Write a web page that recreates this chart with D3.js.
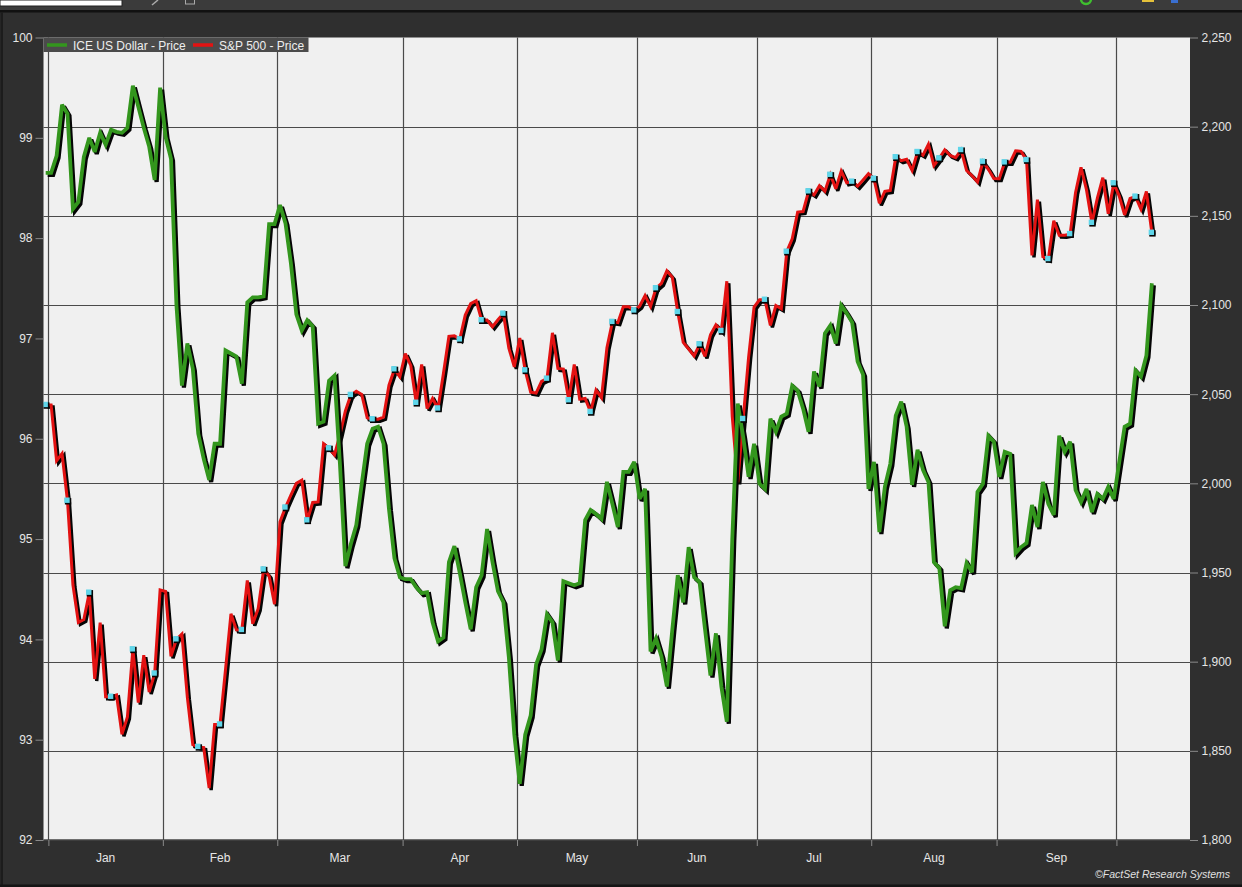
<!DOCTYPE html>
<html>
<head>
<meta charset="utf-8">
<script src="https://cdn.jsdelivr.net/npm/d3@7"></script>
<style>
  html, body { margin: 0; padding: 0; background: #2f2f2f; }
  svg { display: block; font-family: "Liberation Sans", Arial, sans-serif; }
</style>
</head>
<body>
<svg id="chart" width="1242" height="887"></svg>
<script>
// ---------- DATA ----------
const startDate = "2015-12-31"; // first point; one point per weekday
const seriesNames = ["ICE US Dollar - Price", "S&P 500 - Price"];
const monthLabels = ["Jan", "Feb", "Mar", "Apr", "May", "Jun", "Jul", "Aug", "Sep"];
const leftTicks = [92, 93, 94, 95, 96, 97, 98, 99, 100];
const rightTicks = [1800, 1850, 1900, 1950, 2000, 2050, 2100, 2150, 2200, 2250];
const dollarValues = [
  98.65, 98.65, 98.82, 99.33, 99.24, 98.29, 98.36, 98.81, 99.00, 98.86,
  99.05, 98.93, 99.08, 99.06, 99.05, 99.10, 99.52, 99.31, 99.10, 98.91,
  98.58, 99.50, 99.01, 98.79, 97.33, 96.53, 96.95, 96.70, 96.05, 95.80,
  95.59, 95.95, 95.95, 96.88, 96.85, 96.82, 96.55, 97.36, 97.41, 97.41,
  97.42, 98.14, 98.14, 98.33, 98.15, 97.75, 97.24, 97.08, 97.18, 97.12,
  96.15, 96.17, 96.58, 96.63, 95.75, 94.73, 94.95, 95.14, 95.55, 95.95,
  96.10, 96.12, 95.95, 95.30, 94.81, 94.62, 94.60, 94.60, 94.52, 94.46,
  94.47, 94.17, 93.98, 94.02, 94.77, 94.93, 94.66, 94.37, 94.10, 94.52,
  94.64, 95.10, 94.77, 94.48, 94.37, 93.82, 93.05, 92.56, 93.05, 93.24,
  93.75, 93.90, 94.25, 94.17, 93.79, 94.58, 94.56, 94.54, 94.56, 95.19,
  95.29, 95.25, 95.20, 95.57, 95.35, 95.12, 95.67, 95.67, 95.77, 95.40,
  95.50, 93.88, 94.01, 93.83, 93.53, 94.10, 94.64, 94.37, 94.92, 94.62,
  94.57, 94.10, 93.64, 94.06, 93.53, 93.18, 95.00, 96.35, 96.02, 95.62,
  95.95, 95.55, 95.50, 96.20, 96.07, 96.22, 96.25, 96.53, 96.48, 96.30,
  96.07, 96.67, 96.52, 97.05, 97.13, 96.95, 97.33, 97.25, 97.16, 96.77,
  96.64, 95.50, 95.77, 95.07, 95.52, 95.75, 96.23, 96.37, 96.12, 95.54,
  95.89, 95.69, 95.57, 94.77, 94.71, 94.13, 94.49, 94.52, 94.51, 94.76,
  94.67, 95.47, 95.55, 96.03, 95.97, 95.62, 95.87, 95.85, 94.86, 94.92,
  94.96, 95.34, 95.12, 95.57, 95.35, 95.24, 96.03, 95.87, 95.97, 95.49,
  95.37, 95.50, 95.27, 95.45, 95.40, 95.52, 95.40, 95.76, 96.12, 96.15,
  96.68, 96.62, 96.83, 97.55
];
const spxValues = [
  2043.94, 2043.94, 2012.66, 2016.71, 1990.26, 1943.09, 1922.03, 1923.67, 1938.68, 1890.28,
  1921.84, 1880.33, 1880.33, 1881.33, 1859.33, 1868.99, 1906.90, 1877.08, 1903.63, 1882.95,
  1893.36, 1940.24, 1939.38, 1903.03, 1912.53, 1915.45, 1880.05, 1853.44, 1852.21, 1851.86,
  1829.08, 1864.78, 1864.78, 1895.58, 1926.82, 1917.83, 1917.78, 1945.50, 1921.27, 1929.80,
  1951.70, 1948.05, 1932.23, 1978.35, 1986.45, 1993.40, 1999.99, 2001.76, 1979.26, 1989.26,
  1989.57, 2022.19, 2019.64, 2015.93, 2027.22, 2040.59, 2049.58, 2051.60, 2049.80, 2036.71,
  2035.94, 2035.94, 2037.05, 2055.01, 2063.95, 2059.74, 2072.78, 2066.13, 2045.17, 2066.66,
  2041.91, 2047.60, 2041.99, 2061.72, 2082.42, 2082.78, 2080.73, 2094.34, 2100.80, 2102.40,
  2091.48, 2091.58, 2087.79, 2091.70, 2095.15, 2075.81, 2065.30, 2081.43, 2063.37, 2051.12,
  2050.63, 2057.14, 2058.69, 2084.39, 2064.46, 2064.11, 2046.61, 2066.66, 2047.21, 2047.63,
  2040.04, 2052.32, 2048.04, 2076.06, 2090.54, 2090.10, 2099.06, 2099.06, 2096.95, 2099.33,
  2105.26, 2099.13, 2109.41, 2112.13, 2119.12, 2115.48, 2096.07, 2079.06, 2075.32, 2071.50,
  2077.99, 2071.22, 2083.25, 2088.90, 2085.45, 2113.32, 2037.41, 2000.54, 2036.09, 2070.77,
  2098.86, 2102.95, 2102.95, 2088.55, 2099.73, 2097.90, 2129.90, 2137.16, 2152.14, 2152.43,
  2163.75, 2161.74, 2166.89, 2163.78, 2173.02, 2165.17, 2175.03, 2168.48, 2169.18, 2166.58,
  2170.06, 2173.60, 2170.84, 2157.03, 2163.79, 2164.25, 2182.87, 2180.89, 2181.74, 2175.49,
  2185.79, 2184.05, 2190.15, 2178.15, 2182.22, 2187.02, 2183.87, 2182.64, 2186.90, 2175.44,
  2172.47, 2169.04, 2180.38, 2176.12, 2170.95, 2170.86, 2179.98, 2179.98, 2186.48, 2186.16,
  2181.30, 2127.81, 2159.04, 2127.02, 2125.77, 2147.26, 2139.16, 2139.12, 2139.76, 2163.12,
  2177.18, 2164.69, 2146.10, 2159.93, 2171.37, 2151.13, 2168.27, 2161.20, 2150.49, 2159.73,
  2160.77, 2153.74, 2163.66, 2140.50
];
const seriesColors = ["#33961d", "#e31212"];

// ---------- DERIVED DATES (weekdays) ----------
const dates = [];
{
  let d = d3.timeParse("%Y-%m-%d")(startDate);
  while (dates.length < spxValues.length) {
    const wd = d.getDay();
    if (wd !== 0 && wd !== 6) dates.push(new Date(d));
    d = d3.timeDay.offset(d, 1);
  }
}

// ---------- LAYOUT ----------
const W = 1242, H = 887;
const plot = { left: 43.5, right: 1190, top: 37.5, bottom: 840 };

const svg = d3.select("#chart");

// frame / toolbar remnants
svg.append("rect").attr("x", 0).attr("y", 0).attr("width", W).attr("height", 11).attr("fill", "#3b3b3b");
svg.append("rect").attr("x", 0).attr("y", 0).attr("width", 122).attr("height", 6).attr("fill", "#ffffff").attr("stroke", "#222");
svg.append("rect").attr("x", 0).attr("y", 10).attr("width", W).attr("height", 2.5).attr("fill", "#111");
svg.append("rect").attr("x", 0.5).attr("y", 12).attr("width", 2.5).attr("height", H - 12).attr("fill", "#1c1c1c");
svg.append("rect").attr("x", 0).attr("y", H - 2.5).attr("width", W).attr("height", 2.5).attr("fill", "#151515");
// small toolbar icons
svg.append("path").attr("d", "M158,0 L152,5").attr("stroke", "#aaa").attr("stroke-width", 1.5);
svg.append("rect").attr("x", 185.5).attr("y", -3).attr("width", 9).attr("height", 7).attr("fill", "none").attr("stroke", "#aaa");
svg.append("circle").attr("cx", 1086).attr("cy", -1).attr("r", 5).attr("fill", "none").attr("stroke", "#3fbf2f").attr("stroke-width", 2.5);
svg.append("rect").attr("x", 1142).attr("y", -2).attr("width", 12).attr("height", 4).attr("fill", "#e5c13a");
svg.append("rect").attr("x", 1171).attr("y", -2).attr("width", 7).attr("height", 5).attr("fill", "#3a6fd0");

// plot background
svg.append("rect")
  .attr("x", plot.left).attr("y", plot.top)
  .attr("width", plot.right - plot.left).attr("height", plot.bottom - plot.top)
  .attr("fill", "#f0f0f0");

// ---------- SCALES ----------
const x = d3.scaleLinear().domain([-0.4, 210.0]).range([plot.left, plot.right]);
const yL = d3.scaleLinear().domain([92, 100]).range([plot.bottom, plot.top]);
const yR = d3.scaleLinear().domain([1800, 2250]).range([plot.bottom, plot.top]);

// month boundaries (between last weekday of one month and first of the next)
const monthStarts = [];
dates.forEach((d, i) => {
  if (i > 0 && d.getMonth() !== dates[i - 1].getMonth()) monthStarts.push(i - 0.5);
});

// ---------- GRID ----------
const grid = svg.append("g").attr("class", "grid");
grid.selectAll("line.h")
  .data(rightTicks.filter(t => t > 1800 && t < 2250))
  .join("line")
  .attr("class", "h")
  .attr("x1", plot.left).attr("x2", plot.right)
  .attr("y1", d => Math.round(yR(d)) + 0.5).attr("y2", d => Math.round(yR(d)) + 0.5)
  .attr("stroke", "#4a4a4a").attr("stroke-width", 1.2);
grid.selectAll("line.v")
  .data(monthStarts)
  .join("line")
  .attr("class", "v")
  .attr("x1", d => Math.round(x(d)) + 0.5).attr("x2", d => Math.round(x(d)) + 0.5)
  .attr("y1", plot.top).attr("y2", plot.bottom)
  .attr("stroke", "#4a4a4a").attr("stroke-width", 1.2);
svg.append("line")
  .attr("x1", plot.left).attr("x2", plot.right)
  .attr("y1", plot.bottom).attr("y2", plot.bottom)
  .attr("stroke", "#444").attr("stroke-width", 1.5);

// ---------- AXES ----------
const axisText = "#e6e6e6";
const leftAxis = svg.append("g")
  .attr("transform", `translate(${plot.left},0)`)
  .call(d3.axisLeft(yL).tickValues(leftTicks).tickSize(8).tickPadding(3).tickFormat(d3.format("d")));
const rightAxis = svg.append("g")
  .attr("transform", `translate(${plot.right},0)`)
  .call(d3.axisRight(yR).tickValues(rightTicks).tickSize(8).tickPadding(3.5).tickFormat(d3.format(",")));
const bottomAxis = svg.append("g")
  .attr("transform", `translate(0,${plot.bottom})`)
  .call(d3.axisBottom(x).tickValues(monthStarts).tickSize(6).tickFormat(""));
[leftAxis, rightAxis, bottomAxis].forEach(g => {
  g.select(".domain").remove();
  g.selectAll(".tick line").attr("stroke", "#8a8a8a");
  g.selectAll(".tick text")
    .attr("fill", axisText)
    .style("font-family", '"Liberation Sans", Arial, sans-serif')
    .style("font-size", "12px");
});

// month labels centred between boundaries
const bounds = monthStarts.slice();
svg.append("g").selectAll("text")
  .data(monthLabels)
  .join("text")
  .attr("x", (d, i) => x((bounds[i] + bounds[i + 1]) / 2))
  .attr("y", 862)
  .attr("text-anchor", "middle")
  .attr("fill", axisText)
  .style("font-size", "12px")
  .text(d => d);

// copyright
svg.append("text")
  .attr("x", 1230).attr("y", 878)
  .attr("text-anchor", "end")
  .attr("fill", "#e0e0e0")
  .style("font-size", "10.5px")
  .style("font-style", "italic")
  .text("©FactSet Research Systems");

// ---------- LINES ----------
const clip = svg.append("clipPath").attr("id", "clip").append("rect")
  .attr("x", plot.left).attr("y", plot.top)
  .attr("width", plot.right - plot.left).attr("height", plot.bottom - plot.top);

const lines = svg.append("g").attr("clip-path", "url(#clip)");
const lineL = d3.line().x((d, i) => x(i)).y(d => yL(d));
const lineR = d3.line().x((d, i) => x(i)).y(d => yR(d));

function drawSeries(values, gen, color, width) {
  lines.append("path").datum(values)
    .attr("d", gen)
    .attr("transform", "translate(2,2)")
    .attr("fill", "none").attr("stroke", "#050505")
    .attr("stroke-width", width + 0.4).attr("stroke-miterlimit", 3);
  lines.append("path").datum(values)
    .attr("d", gen)
    .attr("fill", "none").attr("stroke", color)
    .attr("stroke-width", width).attr("stroke-miterlimit", 3);
}
drawSeries(spxValues, lineR, seriesColors[1], 3);
drawSeries(dollarValues, lineL, seriesColors[0], 3.8);

// markers on S&P line (every 4th point and the last)
const markerIdx = spxValues.map((v, i) => i).filter(i => i % 4 === 0 || i === spxValues.length - 1);
const mk = lines.append("g");
mk.selectAll("rect.s").data(markerIdx).join("rect").attr("class", "s")
  .attr("x", i => x(i) - 2.6).attr("y", i => yR(spxValues[i]) - 2.6)
  .attr("width", 6.4).attr("height", 6.4).attr("fill", "#060606");
mk.selectAll("rect.c").data(markerIdx).join("rect").attr("class", "c")
  .attr("x", i => x(i) - 3.2).attr("y", i => yR(spxValues[i]) - 3.2)
  .attr("width", 5.4).attr("height", 5.4).attr("fill", "#5fd6ea");

// ---------- LEGEND ----------
const legend = svg.append("g");
legend.append("rect")
  .attr("x", plot.left).attr("y", plot.top)
  .attr("width", 265).attr("height", 14.5)
  .attr("fill", "#4b4b4b");
const legItems = [
  { name: seriesNames[0], color: seriesColors[0], x0: 47, tx: 73 },
  { name: seriesNames[1], color: seriesColors[1], x0: 193, tx: 219 }
];
legItems.forEach(it => {
  legend.append("line")
    .attr("x1", it.x0).attr("x2", it.x0 + 20)
    .attr("y1", 45).attr("y2", 45)
    .attr("stroke", it.color).attr("stroke-width", 3.5);
  legend.append("text")
    .attr("x", it.tx).attr("y", 49.5)
    .attr("fill", "#eeeeee")
    .style("font-size", "12px")
    .text(it.name);
});
</script>
</body>
</html>
